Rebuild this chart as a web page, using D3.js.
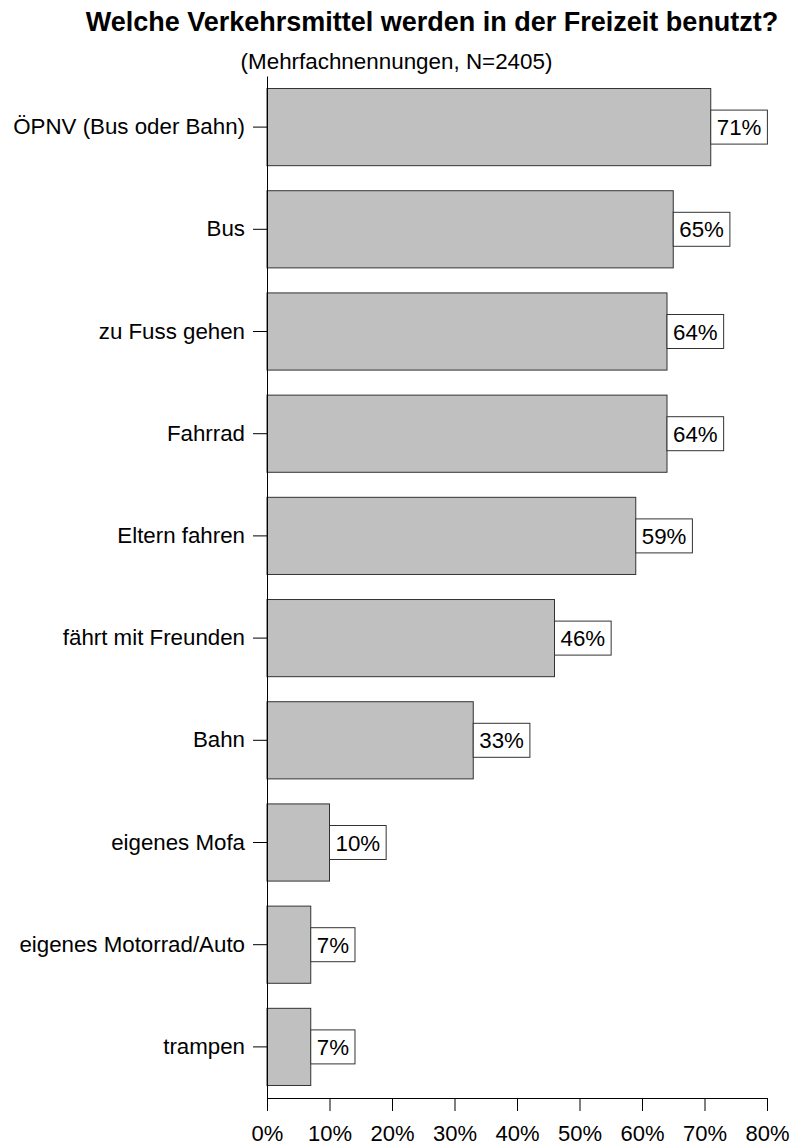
<!DOCTYPE html>
<html><head><meta charset="utf-8">
<script src="https://cdn.jsdelivr.net/npm/d3@7"></script>
<style>body{margin:0;background:#fff}svg{display:block}</style>
</head><body>
<script>
const categories = ["ÖPNV (Bus oder Bahn)","Bus","zu Fuss gehen","Fahrrad","Eltern fahren","fährt mit Freunden","Bahn","eigenes Mofa","eigenes Motorrad/Auto","trampen"];
const values = [71,65,64,64,59,46,33,10,7,7];
const tickValues = [0,10,20,30,40,50,60,70,80];
const title = "Welche Verkehrsmittel werden in der Freizeit benutzt?";
const subtitle = "(Mehrfachnennungen, N=2405)";

const W=794,H=1145;
const font="Liberation Sans, Arial, sans-serif";
const svg=d3.select("body").append("svg").attr("width",W).attr("height",H);
const x=d3.scaleLinear().domain([0,80]).range([267,767]);
const y=d3.scaleBand().domain(categories).range([76,1098]).paddingInner(0.245).paddingOuter(0.1225);

svg.append("text").attr("x",432).attr("y",31).attr("text-anchor","middle")
  .attr("font-family",font).attr("font-weight","bold").attr("font-size",27).text(title);
svg.append("text").attr("x",396.5).attr("y",69).attr("text-anchor","middle")
  .attr("font-family",font).attr("font-size",22.4).text(subtitle);

svg.selectAll("rect.bar").data(values).join("rect").attr("class","bar")
  .attr("x",x(0)).attr("y",(d,i)=>y(categories[i]))
  .attr("width",d=>x(d)-x(0)).attr("height",y.bandwidth())
  .attr("fill","#c0c0c0").attr("stroke","#333").attr("stroke-width",1);

const lg=svg.selectAll("g.lab").data(values).join("g").attr("class","lab");
lg.each(function(d,i){
  const g=d3.select(this);
  const cy=y(categories[i])+y.bandwidth()/2;
  const t=g.append("text").attr("x",x(d)+6).attr("y",cy+8)
    .attr("font-family",font).attr("font-size",22.3).text(d+"%");
  const w=t.node().getComputedTextLength();
  g.insert("rect","text").attr("x",x(d)).attr("y",cy-17).attr("width",w+12).attr("height",34)
    .attr("fill","#fff").attr("stroke","#333").attr("stroke-width",1);
});

const ya=svg.append("g").attr("transform",`translate(${x(0)},0)`)
  .call(d3.axisLeft(y).tickSize(14).tickPadding(8).tickSizeOuter(0));
ya.select(".domain").attr("stroke","#000");
ya.selectAll("text").attr("font-family",font).attr("font-size",22.3).attr("fill","#000");

const xa=svg.append("g").attr("transform","translate(0,1098)")
  .call(d3.axisBottom(x).tickValues(tickValues).tickFormat(d=>d+"%").tickSize(13).tickPadding(14).tickSizeOuter(0));
xa.selectAll("text").attr("font-family",font).attr("font-size",22).attr("fill","#000");
</script>
</body></html>
